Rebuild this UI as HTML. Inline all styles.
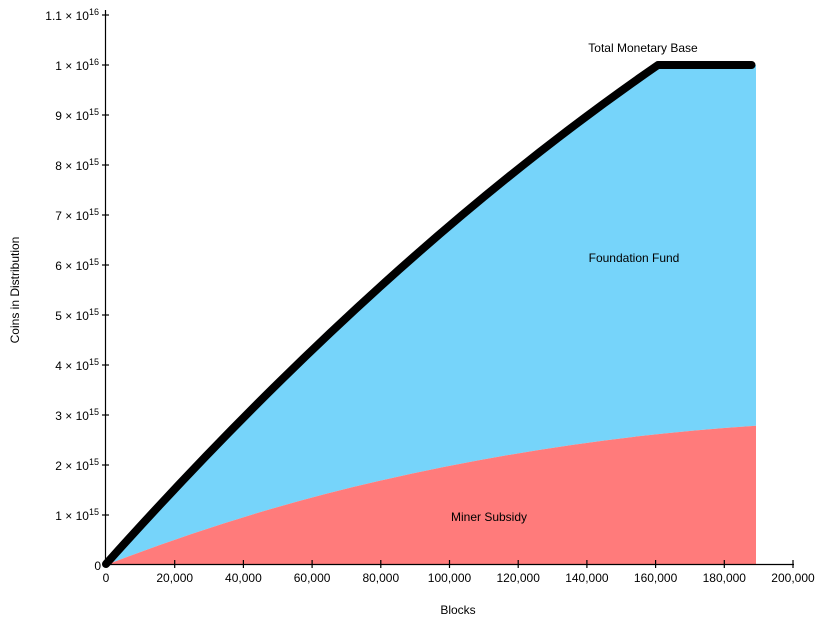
<!DOCTYPE html>
<html><head><meta charset="utf-8"><style>
body{margin:0;background:#fff}
svg{display:block;font-family:"Liberation Sans","DejaVu Sans",sans-serif}
text{font-size:12px;fill:#000}
</style></head><body>
<svg width="823" height="625" viewBox="0 0 823 625" xmlns="http://www.w3.org/2000/svg">
<path d="M106,565 Q382.5,255 658,65 L756,65 L756,425.7 Q568.4,437.8 380.8,480.5 Q243.4,511.75 106,565 Z" fill="#76d4fa"/>
<path d="M106,565 Q243.4,511.75 380.8,480.5 Q568.4,437.8 756,425.7 L756,565 Z" fill="#ff7b7b"/>
<path d="M106,564 Q382.5,255 658,65 L751.5,65" fill="none" stroke="#000" stroke-width="8" stroke-linecap="round" stroke-linejoin="round"/>
<g stroke="#000" stroke-width="1.2">
<line x1="105.5" y1="10" x2="105.5" y2="565"/>
<line x1="105" y1="564.5" x2="794" y2="564.5"/>
<line x1="102" y1="15" x2="109" y2="15"/><line x1="102" y1="65" x2="109" y2="65"/><line x1="102" y1="115" x2="109" y2="115"/><line x1="102" y1="165" x2="109" y2="165"/><line x1="102" y1="215" x2="109" y2="215"/><line x1="102" y1="265" x2="109" y2="265"/><line x1="102" y1="315" x2="109" y2="315"/><line x1="102" y1="365" x2="109" y2="365"/><line x1="102" y1="415" x2="109" y2="415"/><line x1="102" y1="465" x2="109" y2="465"/><line x1="102" y1="515" x2="109" y2="515"/>
<line x1="174.7" y1="560" x2="174.7" y2="568"/><line x1="243.4" y1="560" x2="243.4" y2="568"/><line x1="312.1" y1="560" x2="312.1" y2="568"/><line x1="380.8" y1="560" x2="380.8" y2="568"/><line x1="449.5" y1="560" x2="449.5" y2="568"/><line x1="518.2" y1="560" x2="518.2" y2="568"/><line x1="586.9" y1="560" x2="586.9" y2="568"/><line x1="655.6" y1="560" x2="655.6" y2="568"/><line x1="724.3" y1="560" x2="724.3" y2="568"/><line x1="793" y1="560" x2="793" y2="568"/>
</g>
<g text-anchor="end">
<text x="99" y="20">1.1 × 10<tspan font-size="9" dy="-5">16</tspan></text>
<text x="99" y="70">1 × 10<tspan font-size="9" dy="-5">16</tspan></text>
<text x="99" y="120">9 × 10<tspan font-size="9" dy="-5">15</tspan></text>
<text x="99" y="170">8 × 10<tspan font-size="9" dy="-5">15</tspan></text>
<text x="99" y="220">7 × 10<tspan font-size="9" dy="-5">15</tspan></text>
<text x="99" y="270">6 × 10<tspan font-size="9" dy="-5">15</tspan></text>
<text x="99" y="320">5 × 10<tspan font-size="9" dy="-5">15</tspan></text>
<text x="99" y="370">4 × 10<tspan font-size="9" dy="-5">15</tspan></text>
<text x="99" y="420">3 × 10<tspan font-size="9" dy="-5">15</tspan></text>
<text x="99" y="470">2 × 10<tspan font-size="9" dy="-5">15</tspan></text>
<text x="99" y="520">1 × 10<tspan font-size="9" dy="-5">15</tspan></text>
<text x="101" y="570">0</text>
</g>
<g text-anchor="middle">
<text x="106" y="582">0</text>
<text x="174.7" y="582">20,000</text><text x="243.4" y="582">40,000</text><text x="312.1" y="582">60,000</text><text x="380.8" y="582">80,000</text><text x="449.5" y="582">100,000</text><text x="518.2" y="582">120,000</text><text x="586.9" y="582">140,000</text><text x="655.6" y="582">160,000</text><text x="724.3" y="582">180,000</text><text x="793" y="582">200,000</text>
<text x="458" y="614">Blocks</text>
<text x="0" y="0" transform="translate(19,290) rotate(-90)">Coins in Distribution</text>
<text x="643" y="52">Total Monetary Base</text>
<text x="634" y="262">Foundation Fund</text>
<text x="489" y="521">Miner Subsidy</text>
</g>
</svg>
</body></html>
